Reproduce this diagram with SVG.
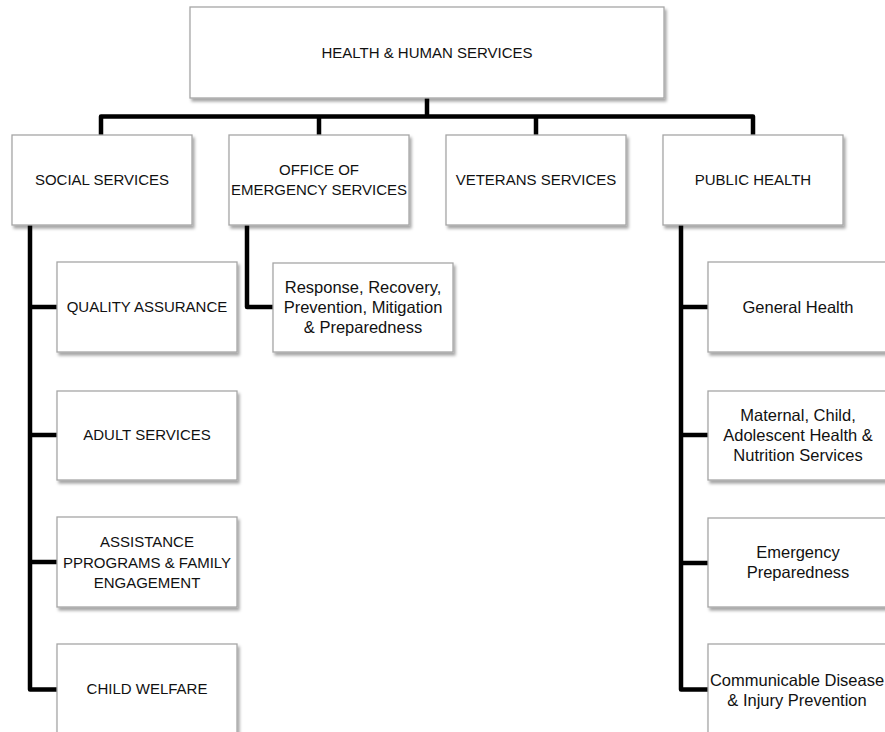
<svg xmlns="http://www.w3.org/2000/svg" width="885" height="732" viewBox="0 0 885 732">
<defs>
<filter id="sh" x="-10%" y="-10%" width="125%" height="130%">
<feDropShadow dx="2" dy="3" stdDeviation="1.8" flood-color="#000" flood-opacity="0.35"/>
</filter>
</defs>
<style>
.box{fill:#fff;stroke:#a6a6a6;stroke-width:1.3;filter:url(#sh)}
.t{font-family:"Liberation Sans",Arial,sans-serif;font-size:15px;fill:#111;text-anchor:middle}
.m{font-family:"Liberation Sans",Arial,sans-serif;font-size:16.5px;fill:#111;text-anchor:middle}
.c{fill:none;stroke:#000;stroke-width:4.5;stroke-linejoin:round}
</style>
<rect width="885" height="732" fill="#fff"/>
<g id="connectors">
<path class="c" d="M427,98 V116.5"/>
<path class="c" d="M101,135 V116.5 H753 V135"/>
<path class="c" d="M319,116.5 V135"/>
<path class="c" d="M536,116.5 V135"/>
<path class="c" d="M30,225 V689.5 H57"/>
<path class="c" d="M30,307 H57"/>
<path class="c" d="M30,435 H57"/>
<path class="c" d="M30,562 H57"/>
<path class="c" d="M247,225 V307 H273"/>
<path class="c" d="M681,225 V689.5 H708"/>
<path class="c" d="M681,307 H708"/>
<path class="c" d="M681,435 H708"/>
<path class="c" d="M681,563 H708"/>
</g>
<g id="hhs">
<rect class="box" x="190" y="7" width="474" height="91"/>
<text class="t" x="427" y="58">HEALTH &amp; HUMAN SERVICES</text>
</g>
<g id="social-services">
<rect class="box" x="12" y="135" width="180" height="90"/>
<text class="t" x="102" y="185.4">SOCIAL SERVICES</text>
</g>
<g id="oes">
<rect class="box" x="229" y="135" width="180" height="90"/>
<text class="t" x="319" y="174.8">OFFICE OF</text>
<text class="t" x="319" y="195.4">EMERGENCY SERVICES</text>
</g>
<g id="veterans">
<rect class="box" x="446" y="135" width="180" height="90"/>
<text class="t" x="536" y="185.4">VETERANS SERVICES</text>
</g>
<g id="public-health">
<rect class="box" x="663" y="135" width="180" height="90"/>
<text class="t" x="753" y="185.4">PUBLIC HEALTH</text>
</g>
<g id="quality-assurance">
<rect class="box" x="57" y="262" width="180" height="90"/>
<text class="t" x="147" y="312.4">QUALITY ASSURANCE</text>
</g>
<g id="adult-services">
<rect class="box" x="57" y="391" width="180" height="89"/>
<text class="t" x="147" y="439.8">ADULT SERVICES</text>
</g>
<g id="assistance">
<rect class="box" x="57" y="517" width="180" height="90"/>
<text class="t" x="147" y="547.2">ASSISTANCE</text>
<text class="t" x="147" y="567.6">PPROGRAMS &amp; FAMILY</text>
<text class="t" x="147" y="587.6">ENGAGEMENT</text>
</g>
<g id="child-welfare">
<rect class="box" x="57" y="644" width="180" height="90"/>
<text class="t" x="147" y="694.4">CHILD WELFARE</text>
</g>
<g id="response">
<rect class="box" x="273" y="263" width="180" height="89"/>
<text class="m" x="363" y="293">Response, Recovery,</text>
<text class="m" x="363" y="313">Prevention, Mitigation</text>
<text class="m" x="363" y="333">&amp; Preparedness</text>
</g>
<g id="general-health">
<rect class="box" x="708" y="262" width="180" height="90"/>
<text class="m" x="798" y="313">General Health</text>
</g>
<g id="maternal">
<rect class="box" x="708" y="391" width="180" height="89"/>
<text class="m" x="798" y="421">Maternal, Child,</text>
<text class="m" x="798" y="441">Adolescent Health &amp;</text>
<text class="m" x="798" y="461">Nutrition Services</text>
</g>
<g id="emergency-preparedness">
<rect class="box" x="708" y="518" width="180" height="89"/>
<text class="m" x="798" y="558">Emergency</text>
<text class="m" x="798" y="578">Preparedness</text>
</g>
<g id="communicable">
<rect class="box" x="708" y="644" width="180" height="90"/>
<text class="m" x="797" y="686">Communicable Disease</text>
<text class="m" x="797" y="706">&amp; Injury Prevention</text>
</g>
</svg>
